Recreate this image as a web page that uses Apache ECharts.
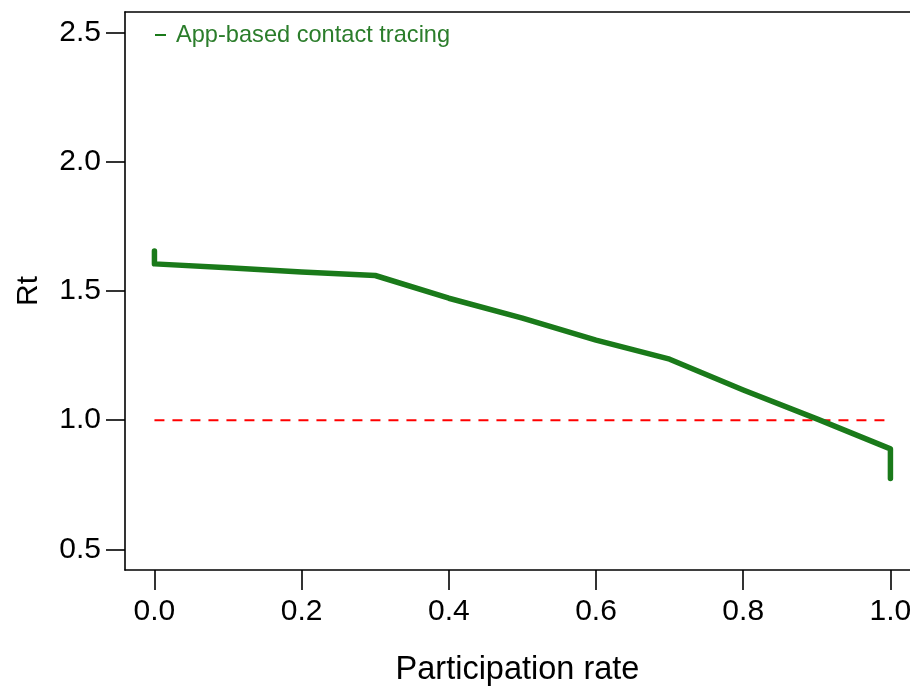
<!DOCTYPE html>
<html>
<head>
<meta charset="utf-8">
<script src="https://cdn.jsdelivr.net/npm/echarts@6/dist/echarts.min.js"></script>
<style>html,body{margin:0;padding:0;background:#fff;}#c{width:910px;height:687px;}</style>
</head>
<body>
<div id="c"></div>
<script>
// Data
var seriesName = 'App-based contact tracing';
var participation = [0, 0, 0.1, 0.2, 0.3, 0.4, 0.5, 0.6, 0.7, 0.8, 0.9, 1.0, 1.0];
var rtValues = [1.655, 1.605, 1.59, 1.574, 1.56, 1.472, 1.395, 1.31, 1.236, 1.117, 1.005, 0.889, 0.774];
var thresholdX = [0, 1];
var thresholdY = [1, 1];
var xTicks = [0, 0.2, 0.4, 0.6, 0.8, 1.0];
var yTicks = [0.5, 1.0, 1.5, 2.0, 2.5];

var lineData = participation.map(function (x, i) { return [x, rtValues[i]]; });
var refData = thresholdX.map(function (x, i) { return [x, thresholdY[i]]; });

var chart = echarts.init(document.getElementById('c'), null, {renderer: 'canvas'});
var font = '"Liberation Sans", Arial, sans-serif';
var axisLineStyle = {color: '#000', width: 1.6};
chart.setOption({
  animation: false,
  backgroundColor: '#fff',
  textStyle: {fontFamily: font},
  grid: {left: 125, top: 12, right: 0, height: 558, show: false, containLabel: false, outerBoundsMode: 'none'},
  legend: {
    data: [seriesName], left: 150, top: 18, icon: 'rect', itemWidth: 11, itemHeight: 2,
    textStyle: {color: '#2b7d2b', fontSize: 23.6, fontFamily: font, padding: [0, 0, 0, 5]}
  },
  xAxis: [{
    type: 'value', min: -0.04, max: 1.0266, position: 'bottom',
    name: 'Participation rate', nameLocation: 'middle', nameGap: 84,
    nameTextStyle: {fontSize: 32.5, color: '#000', fontFamily: font},
    axisLine: {show: true, onZero: false, lineStyle: axisLineStyle},
    axisTick: {show: true, length: 20, customValues: xTicks, lineStyle: axisLineStyle},
    axisLabel: {customValues: xTicks, fontSize: 30, color: '#000', margin: 27, fontFamily: font,
      formatter: function (v) { return v.toFixed(1); }},
    splitLine: {show: false}
  }, {
    type: 'value', min: -0.04, max: 1.0266, position: 'top',
    axisLine: {show: true, onZero: false, lineStyle: axisLineStyle},
    axisTick: {show: false}, axisLabel: {show: false}, splitLine: {show: false}
  }],
  yAxis: {
    type: 'value', min: 0.42, max: 2.58,
    name: 'Rt', nameLocation: 'middle', nameGap: 81,
    nameTextStyle: {fontSize: 30, color: '#000', fontFamily: font},
    axisLine: {show: true, onZero: false, lineStyle: axisLineStyle},
    axisTick: {show: true, length: 19, customValues: yTicks, lineStyle: axisLineStyle},
    axisLabel: {customValues: yTicks, fontSize: 30, color: '#000', margin: 24, fontFamily: font,
      formatter: function (v) { return v.toFixed(1); }},
    splitLine: {show: false}
  },
  series: [
    {
      name: 'threshold', type: 'line', data: refData, symbol: 'none', silent: true,
      lineStyle: {color: '#ff0000', width: 2, type: [10, 8]}
    },
    {
      name: seriesName, type: 'line', data: lineData, symbol: 'none', silent: true,
      color: '#1a7a1a',
      lineStyle: {color: '#1a7a1a', width: 5.5, cap: 'round', join: 'round'}
    }
  ]
});
</script>
</body>
</html>
